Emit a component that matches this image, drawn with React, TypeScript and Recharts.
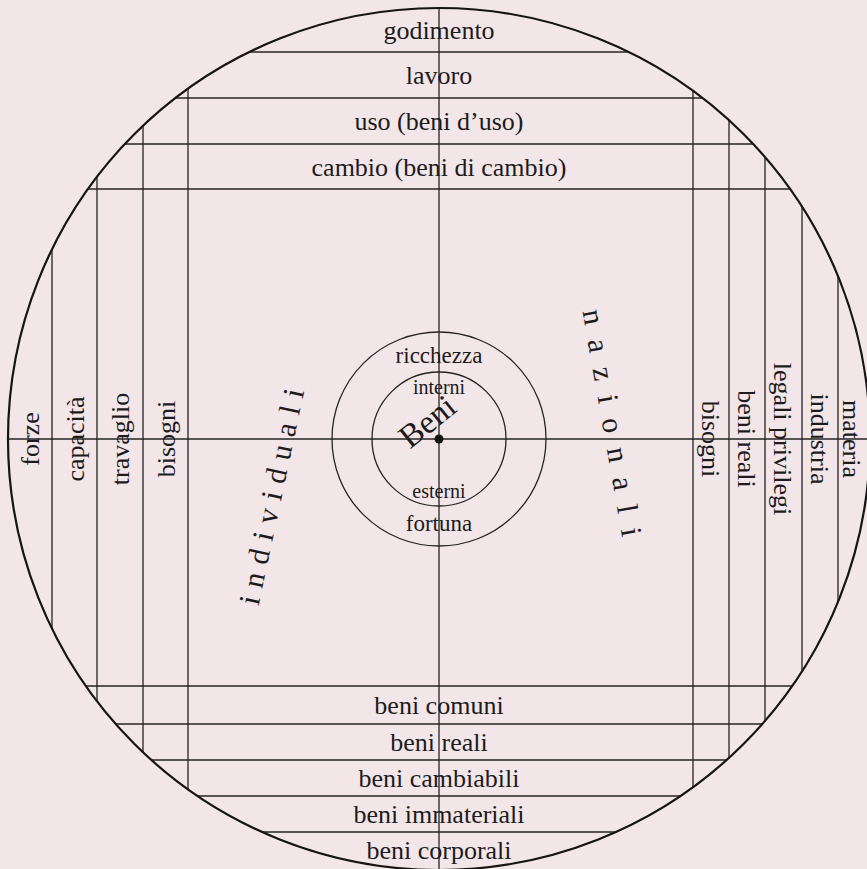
import React from 'react';
import { ScatterChart, Scatter, XAxis, YAxis, ReferenceLine, ReferenceDot } from 'recharts';

const W = 867;
const H = 869;

// the big disc (picture units, axes map 1:1 to pixels)
const disc = { x: 439, y: 439, r: 431 };

// horizontal bands above and below
const topRows = [52, 98, 144, 189];
const topLabels = ['godimento', 'lavoro', 'uso (beni d’uso)', 'cambio (beni di cambio)'];
const bottomRows = [686, 724, 760, 796, 832];
const bottomLabels = ['beni comuni', 'beni reali', 'beni cambiabili', 'beni immateriali', 'beni corporali'];

// vertical bands left and right
const leftCols = [52, 97, 143, 188];
const leftLabels = ['forze', 'capacità', 'travaglio', 'bisogni'];
const rightCols = [693, 729, 765, 802, 838];
const rightLabels = ['bisogni', 'beni reali', 'legali privilegi', 'industria', 'materia'];

// rings round the centre
const rings = [107, 67];
const outerRingLabels = ['ricchezza', 'fortuna'];
const innerRingLabels = ['interni', 'esterni'];

const FONT = "'Liberation Serif', 'Times New Roman', serif";
const INK = '#1d1b1c';

const half = (d: number) => Math.sqrt(Math.max(0, disc.r * disc.r - d * d));
const hChord = (y: number) => {
  const h = half(y - disc.y);
  return [{ x: disc.x - h, y }, { x: disc.x + h, y }];
};
const vChord = (x: number) => {
  const h = half(x - disc.x);
  return [{ x, y: disc.y - h }, { x, y: disc.y + h }];
};

// centre of band i, where bands are [start, l0], [l0, l1] ... (top/left)
const bandBefore = (lines: number[], i: number, start: number) => ((i === 0 ? start : lines[i - 1]) + lines[i]) / 2;
// bands [l0, l1], [l1, l2] ... [last, end] (bottom/right)
const bandAfter = (lines: number[], i: number, end: number) => (lines[i] + (i + 1 < lines.length ? lines[i + 1] : end)) / 2;

const discTop = disc.y - disc.r;
const discLeft = disc.x - disc.r;

const bandLabels = [
  ...topLabels.map((text, i) => ({ x: disc.x, y: bandBefore(topRows, i, discTop), text, size: 26 })),
  ...bottomLabels.map((text, i) => ({ x: disc.x, y: bandAfter(bottomRows, i, H - 2), text, size: 26 })),
  ...leftLabels.map((text, i) => ({ x: bandBefore(leftCols, i, discLeft), y: disc.y, text, size: 26, angle: -90 })),
  ...rightLabels.map((text, i) => ({ x: bandAfter(rightCols, i, W), y: disc.y, text, size: 26, angle: 90 })),
];

const ringOuterGap = (rings[0] + rings[1]) / 2 - 3;
const ringInnerGap = rings[1] - 15;
const centreLabels = [
  { x: disc.x, y: disc.y - ringOuterGap, text: outerRingLabels[0], size: 23 },
  { x: disc.x, y: disc.y + ringOuterGap, text: outerRingLabels[1], size: 23 },
  { x: disc.x, y: disc.y - ringInnerGap, text: innerRingLabels[0], size: 20 },
  { x: disc.x, y: disc.y + ringInnerGap, text: innerRingLabels[1], size: 20 },
  { x: 427, y: 421, text: 'Beni', size: 33, angle: -39 },
  { x: 272, y: 492, text: 'individuali', size: 30, angle: -78, spacing: 9 },
  { x: 614, y: 430, text: 'nazionali', size: 30, angle: 80, spacing: 15 },
];

const TextMark = (props: any) => {
  const { cx, cy, payload } = props;
  if (cx == null || cy == null) return null;
  return (
    <text
      x={cx}
      y={cy}
      dy="0.35em"
      textAnchor="middle"
      fontFamily={FONT}
      fontSize={payload.size}
      fill={INK}
      style={payload.spacing ? { letterSpacing: `${payload.spacing}px` } : undefined}
      transform={payload.angle ? `rotate(${payload.angle} ${cx} ${cy})` : undefined}
    >
      {payload.text}
    </text>
  );
};

const lineProps = { stroke: '#262324', strokeWidth: 1.3, ifOverflow: 'visible' as const };

export default function App() {
  return (
    <div style={{ position: 'absolute', left: 0, top: 0, width: W, height: H, background: '#f2e6e8', overflow: 'hidden' }}>
      <ScatterChart width={W} height={H} margin={{ top: 0, right: 0, bottom: 0, left: 0 }}>
        <XAxis type="number" dataKey="x" domain={[0, W]} allowDataOverflow hide />
        <YAxis type="number" dataKey="y" domain={[0, H]} allowDataOverflow reversed hide />

        {[...topRows, disc.y, ...bottomRows].map((y) => (
          <ReferenceLine key={`h${y}`} segment={hChord(y)} {...lineProps} />
        ))}
        {[...leftCols, disc.x, ...rightCols].map((x) => (
          <ReferenceLine key={`v${x}`} segment={vChord(x)} {...lineProps} />
        ))}

        <ReferenceDot x={disc.x} y={disc.y} r={disc.r} fill="none" stroke="#161415" strokeWidth={2.2} ifOverflow="visible" />
        {rings.map((r) => (
          <ReferenceDot key={`r${r}`} x={disc.x} y={disc.y} r={r} fill="none" stroke="#262324" strokeWidth={1.3} ifOverflow="visible" />
        ))}
        <ReferenceDot x={disc.x} y={disc.y} r={4.5} fill="#161415" stroke="none" ifOverflow="visible" />

        <Scatter data={bandLabels} shape={TextMark} isAnimationActive={false} />
        <Scatter data={centreLabels} shape={TextMark} isAnimationActive={false} />
      </ScatterChart>
    </div>
  );
}
